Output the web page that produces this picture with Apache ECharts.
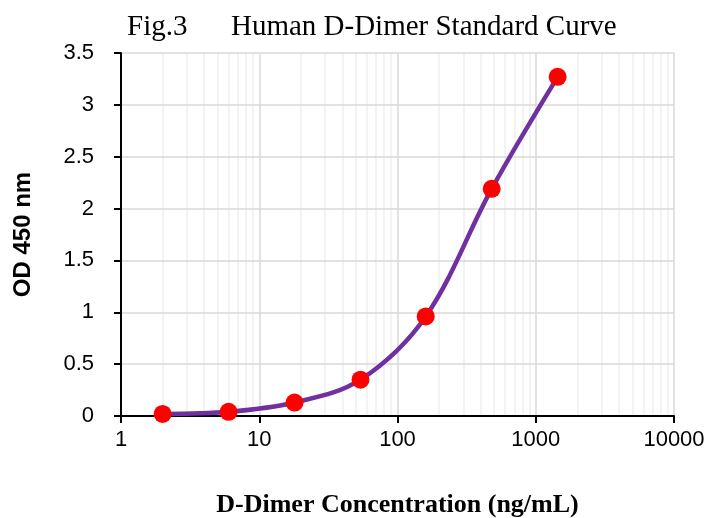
<!DOCTYPE html>
<html>
<head>
<meta charset="utf-8">
<script src="https://cdn.jsdelivr.net/npm/echarts@6/dist/echarts.min.js"></script>
<style>
  html, body { margin: 0; padding: 0; background: #fff; }
  #chart { width: 710px; height: 518px; }
</style>
</head>
<body>
<div id="chart"></div>
<script>
// standard points (ng/mL, OD 450)
var conc = [2, 6, 18, 54, 160, 480, 1440];
var od = [0.02, 0.04, 0.13, 0.35, 0.96, 2.19, 3.27];
// minor gridlines of the log axis
var minorX = [2, 3, 4, 5, 6, 7, 8, 9, 20, 30, 40, 50, 60, 70, 80, 90,
    200, 300, 400, 500, 600, 700, 800, 900, 2000, 3000, 4000, 5000, 6000, 7000, 8000, 9000];

var myChart = echarts.init(document.getElementById('chart'));

var points = conc.map(function (c, i) { return [c, od[i]]; });

var option = {
    animation: false,
    title: {
        text: 'Fig.3      Human D-Dimer Standard Curve',
        left: 122,
        top: 8,
        textStyle: {
            fontFamily: 'Liberation Serif',
            fontWeight: 'normal',
            fontSize: 29,
            color: '#000'
        }
    },
    grid: {
        left: 121,
        right: 36,
        top: 53,
        bottom: 102,
        outerBoundsMode: 'none'
    },
    xAxis: {
        type: 'log',
        logBase: 10,
        min: 1,
        max: 10000,
        z: 2,
        name: 'D-Dimer Concentration (ng/mL)',
        nameLocation: 'middle',
        nameGap: 76,
        nameTextStyle: {
            fontFamily: 'Liberation Serif',
            fontWeight: 'bold',
            fontSize: 26,
            color: '#000'
        },
        axisLine: { lineStyle: { color: '#000', width: 2 } },
        axisTick: { show: true, length: 7, lineStyle: { color: '#000', width: 2 } },
        axisLabel: {
            margin: 13,
            fontFamily: 'Liberation Sans',
            fontSize: 22,
            color: '#000',
            formatter: function (v) { return String(Math.round(v)); }
        },
        splitLine: { show: true, lineStyle: { color: '#d9d9d9', width: 1.5 } }
    },
    yAxis: {
        type: 'value',
        min: 0,
        max: 3.5,
        interval: 0.5,
        z: 2,
        name: 'OD 450 nm',
        nameLocation: 'middle',
        nameGap: 86,
        nameRotate: 90,
        nameTextStyle: {
            fontFamily: 'Liberation Sans',
            fontWeight: 'bold',
            fontSize: 24,
            color: '#000'
        },
        axisLine: { show: true, lineStyle: { color: '#000', width: 2 } },
        axisTick: { show: true, length: 7, lineStyle: { color: '#000', width: 2 } },
        axisLabel: {
            margin: 27,
            fontFamily: 'Liberation Sans',
            fontSize: 22,
            color: '#000'
        },
        splitLine: { show: true, lineStyle: { color: '#d9d9d9', width: 1.5 } }
    },
    series: [
        {
            // minor log gridlines
            type: 'line',
            data: [],
            silent: true,
            markLine: {
                z: 1,
                silent: true,
                symbol: ['none', 'none'],
                label: { show: false },
                lineStyle: { color: '#efefef', width: 1.5, type: 'solid' },
                data: minorX.map(function (v) { return { xAxis: v }; })
            }
        },
        {
            name: 'Standard',
            type: 'line',
            data: points,
            z: 3,
            smooth: 0.35,
            symbol: 'circle',
            symbolSize: 18,
            lineStyle: { color: '#7030A0', width: 4.5 },
            itemStyle: { color: '#FF0000' }
        }
    ]
};

myChart.setOption(option);
</script>
</body>
</html>
